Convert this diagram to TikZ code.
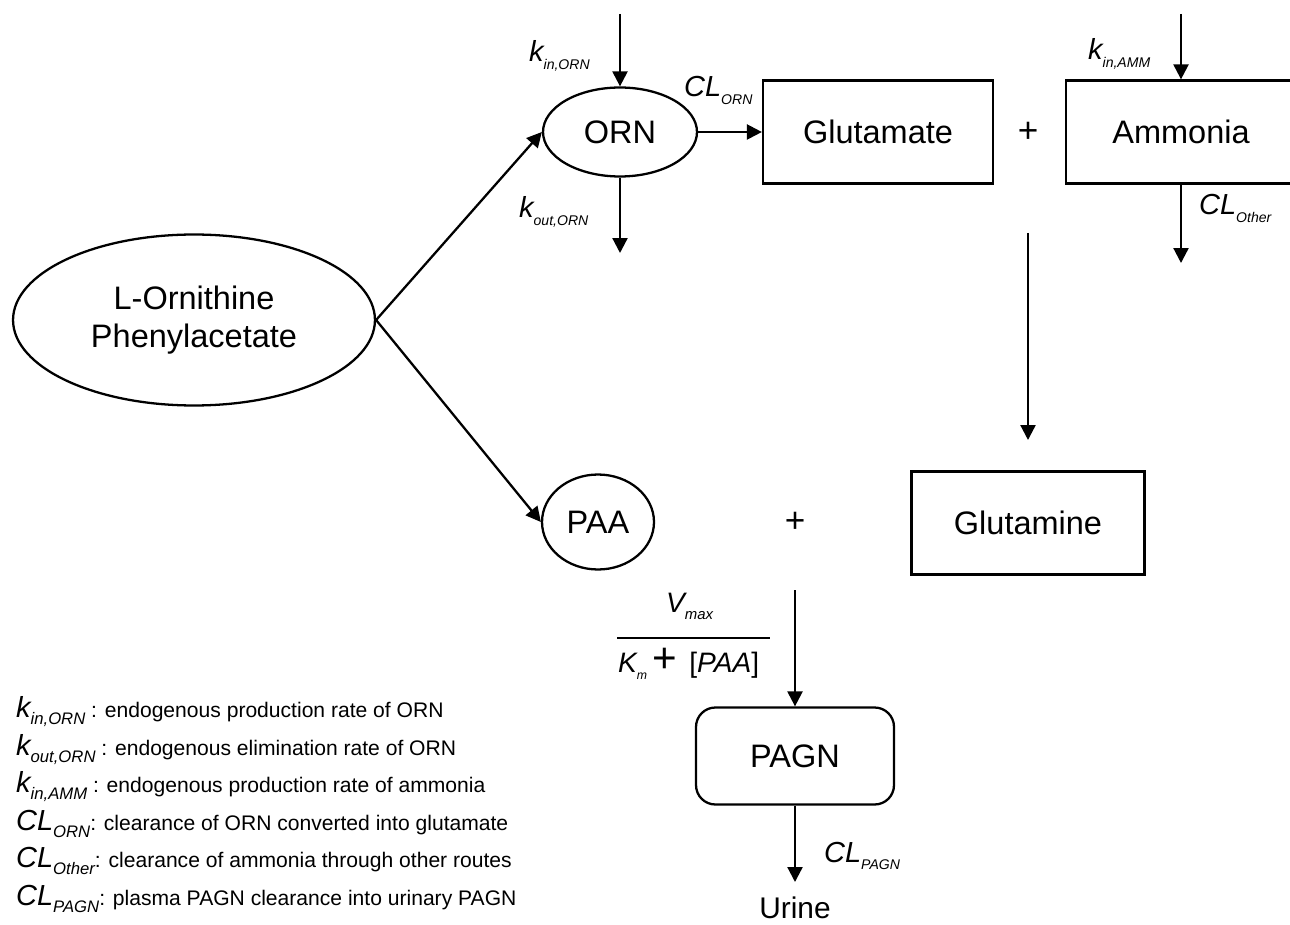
\documentclass[tikz,border=0pt]{standalone}
\usepackage{fontspec}
\setmainfont{Liberation Sans}
\usetikzlibrary{shapes.geometric,arrows.meta}

\newcommand\sym[3][8]{{\itshape #2}\raisebox{-4.5pt}{\fontsize{#1}{#1}\selectfont\itshape #3}}

\begin{document}
\begin{tikzpicture}[x=0.02cm,y=-0.02cm,line width=1.3pt,
  >={Triangle[length=8.5pt,width=8.5pt]},
  oval/.style={draw,ellipse,inner sep=1pt,align=center,font=\fontsize{18.5}{22}\selectfont},
  comp/.style={draw,rectangle,minimum width=4.6cm,minimum height=2.06cm,font=\fontsize{18.5}{22}\selectfont},
  ratelbl/.style={anchor=base west,inner sep=0pt,font=\fontsize{16.5}{18}\selectfont},
  legrow/.style={anchor=base west,inner sep=0pt,font=\fontsize{12}{15}\selectfont},
  plus/.style={inner sep=0pt,font=\fontsize{20}{20}\selectfont}]
\useasboundingbox (0,0) rectangle (1290,925);

% compartments
\node[oval,minimum width=7.24cm,minimum height=3.42cm] (lorn) at (194,320) {L-Ornithine\\Phenylacetate};
\node[oval,minimum width=3.08cm,minimum height=1.78cm] (orn) at (620,132) {ORN};
\node[oval,minimum width=2.24cm,minimum height=1.9cm] (paa) at (598,522) {PAA};
\node[comp] (glu) at (878,132) {Glutamate};
\node[comp] (amm) at (1181,132) {Ammonia};
\node[comp,minimum width=4.66cm] (gln) at (1028,523) {Glutamine};
\node[comp,rounded corners=11pt,minimum width=3.96cm,minimum height=1.94cm] (pagn) at (795,756) {PAGN};
\node[font=\fontsize{17}{18}\selectfont] (urine) at (795,908) {Urine};
\node[plus] (plus1) at (1028,132) {+};
\node[plus] (plus2) at (795,522) {+};

% free ends
\coordinate (ornin) at (620,14);
\coordinate (ornout) at (620,253);
\coordinate (ammin) at (1181,14);
\coordinate (ammout) at (1181,263);
\coordinate (glnin) at (1028,233);
\coordinate (glnend) at (1028,440);
\coordinate (pagnin) at (795,590);
\coordinate (urineend) at (795,882);

\draw[->] (lorn.east) -- (orn.west);
\draw[->] (lorn.east) -- (paa.west);
\draw[->] (ornin) -- (orn.north);
\draw[->] (orn.south) -- (ornout);
\draw[->] (orn.east) -- (glu.west);
\draw[->] (ammin) -- (amm.north);
\draw[->] (amm.south) -- (ammout);
\draw[->] (glnin) -- (glnend);
\draw[->] (pagnin) -- (pagn.north);
\draw[->] (pagn.south) -- (urineend);

% rate constants
\node[ratelbl] (kinorn) at (528,62) {\sym{k}{in,ORN}};
\node[ratelbl] (clorn) at (683,97) {\sym{CL}{ORN}};
\node[ratelbl] (koutorn) at (518,218) {\sym{k}{out,ORN}};
\node[ratelbl] (kinamm) at (1087,60) {\sym{k}{in,AMM}};
\node[ratelbl] (clother) at (1198,215) {\sym{CL}{Other}};
\node[ratelbl] (clpagn) at (823,862) {\sym{CL}{PAGN}};

% Michaelis-Menten term
\node[anchor=base west,inner sep=0pt,font=\fontsize{16}{16}\selectfont] (vmax) at (665,612) {\sym[8.5]{V}{max}};
\coordinate (barl) at (617,638);
\coordinate (barr) at (770,638);
\draw (barl) -- (barr);
\node[anchor=base west,inner sep=0pt,font=\fontsize{16}{16}\selectfont] (kmpaa) at (617,672) {\sym[7]{K}{m}\hspace{3pt}{\fontsize{24}{24}\selectfont +}\hspace{7pt}[\textit{PAA}]};

% legend
\node[legrow] (leg1) at (15,717) {{\fontsize{16.5}{18}\selectfont\sym[9.5]{k}{in,ORN}} : endogenous production rate of ORN};
\node[legrow] (leg2) at (15,755) {{\fontsize{16.5}{18}\selectfont\sym[9.5]{k}{out,ORN}} : endogenous elimination rate of ORN};
\node[legrow] (leg3) at (15,792) {{\fontsize{16.5}{18}\selectfont\sym[9.5]{k}{in,AMM}} : endogenous production rate of ammonia};
\node[legrow] (leg4) at (15,830) {{\fontsize{16.5}{18}\selectfont\sym[9.5]{CL}{ORN}}: clearance of ORN converted into glutamate};
\node[legrow] (leg5) at (15,867) {{\fontsize{16.5}{18}\selectfont\sym[9.5]{CL}{Other}}: clearance of ammonia through other routes};
\node[legrow] (leg6) at (15,905) {{\fontsize{16.5}{18}\selectfont\sym[9.5]{CL}{PAGN}}: plasma PAGN clearance into urinary PAGN};
\end{tikzpicture}
\end{document}
